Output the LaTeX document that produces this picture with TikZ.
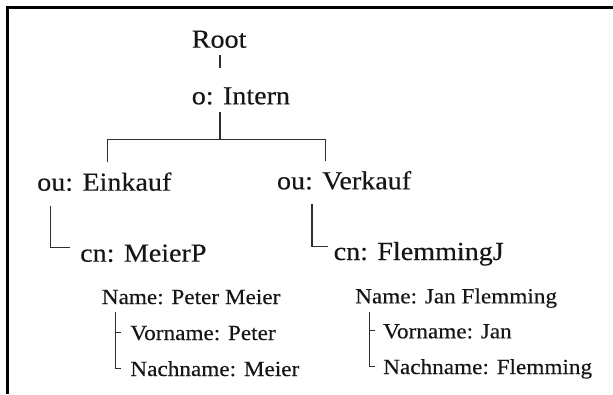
\documentclass[tikz,border=0pt]{standalone}
\usepackage{fontspec}
\setmainfont{Liberation Serif}[FakeStretch=1.08,FakeBold=0.3]
\usetikzlibrary{calc}
\definecolor{ink}{HTML}{161616}
\definecolor{linec}{HTML}{2E2E2E}
\begin{document}
\begin{tikzpicture}[x=1pt,y=-1pt,
  big/.style={font=\fontsize{26}{31}\selectfont, inner sep=0pt, anchor=base west, text=ink},
  small/.style={font=\fontsize{21.5}{26}\selectfont, inner sep=0pt, anchor=base west, text=ink},
  link/.style={draw=linec, line width=1.3pt},
  brace/.style={draw=linec, line width=1pt},
  frame/.style={draw=black, line width=3pt, line join=miter}]
\useasboundingbox (0,0) rectangle (613,394);

% open frame: top and left edges only
\draw[frame] (613,7.5) -- (7.5,7.5) -- (7.5,394);

% directory entries
\node[big] (root)     at (191.6,47.7)  {Root};
\node[big] (intern)   at (191.6,104.3) {o: Intern};
\node[big] (einkauf)  at (37,190.7)    {ou: Einkauf};
\node[big] (verkauf)  at (276.8,189.3) {ou: Verkauf};
\node[big] (meier)    at (80,261.7)    {cn: MeierP};
\node[big] (flemming) at (333.5,260)   {cn: FlemmingJ};

% attributes
\node[small] (nameP) at (101.6,304) {Name: Peter Meier};
\node[small] (vorP)  at (130.2,340) {Vorname: Peter};
\node[small] (nachP) at (130.2,376) {Nachname: Meier};
\node[small] (nameJ) at (355,303.3) {Name: Jan Flemming};
\node[small] (vorJ)  at (383,338.3) {Vorname: Jan};
\node[small] (nachJ) at (383,374)   {Nachname: Flemming};

% tree edges
\draw[link] ($(root.base)+(0.8,7.3)$) -- ($(root.base)+(0.8,20.6)$);
\draw[link] ($(root.base |- intern.base)+(0.8,7.4)$) -- ++(0,27.8) coordinate (j);
\draw[link] ($(einkauf.base west)+(70.5,-28.4)$) |- (j) -| ($(verkauf.base west)+(48.8,-28.6)$);
\draw[link] ($(einkauf.base west)+(13.8,15.3)$) |- ($(meier.base west)+(-9.6,-14.4)$);
\draw[link] ($(verkauf.base west)+(35.2,14.7)$) |- ($(flemming.base west)+(-5.9,-13.3)$);

% attribute brackets
\draw[brace] ($(nameP.base west)+(13.7,8.3)$) |- ($(nachP.base west)+(-9,-7.7)$);
\draw[brace] ($(vorP.base west)+(-14.9,-7.5)$) -- ($(vorP.base west)+(-9,-7.5)$);
\draw[brace] ($(nameJ.base west)+(14.4,8.4)$) |- ($(nachJ.base west)+(-7.7,-7.3)$);
\draw[brace] ($(vorJ.base west)+(-13.6,-7.5)$) -- ($(vorJ.base west)+(-7.7,-7.5)$);
\end{tikzpicture}
\end{document}
